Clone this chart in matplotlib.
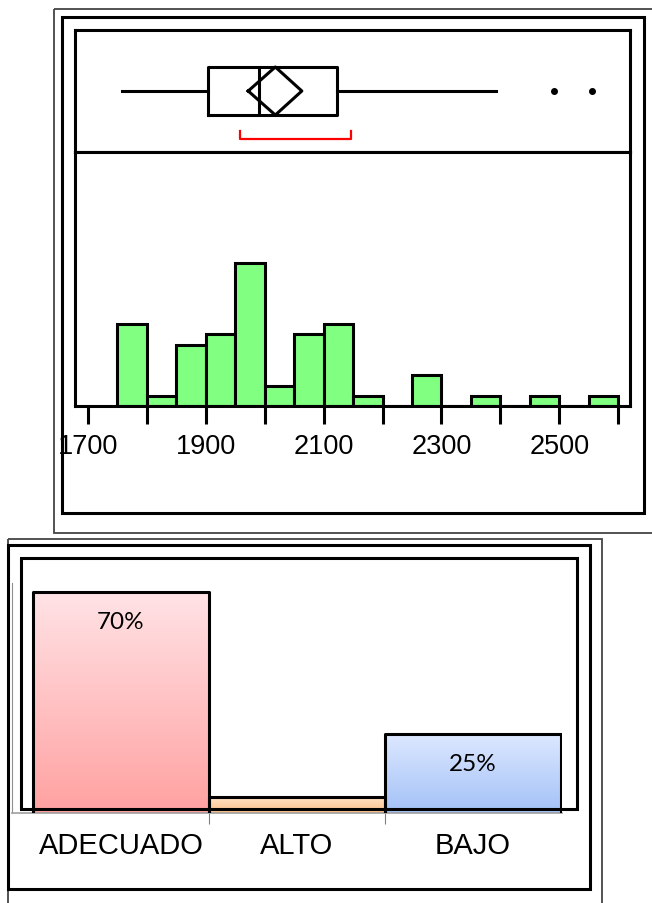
import numpy as np
import matplotlib
matplotlib.use("Agg")
import matplotlib.pyplot as plt
from matplotlib.colors import LinearSegmentedColormap
from matplotlib.patches import Rectangle

plt.rcParams["font.family"] = ["Liberation Sans", "DejaVu Sans"]

# ── histogram of the measured values (bin width 50) ──
bin_edges = np.arange(1750, 2601, 50)
bin_counts = [8, 1, 6, 7, 14, 2, 7, 8, 1, 0, 3, 0, 1, 0, 1, 0, 1]
x_ticks = list(range(1700, 2601, 100))
x_tick_labels = ["1700", "", "1900", "", "2100", "", "2300", "", "2500", ""]

# ── outlier box plot summary ──
box_stats = dict(q1=1904, med=1991, q3=2123, whislo=1758, whishi=2393,
                 fliers=[2491, 2555])
mean_value = 2018
mean_ci = (1972, 2063)
shortest_half = (1958, 2146)

# ── category bar chart (%) ──
categories = ["ADECUADO", "ALTO", "BAJO"]
percentages = [70, 5, 25]
bar_labels = ["70%", "", "25%"]
grad_top = ["#FFE3E6", "#FFE2C6", "#DDE8FF"]
grad_bottom = ["#FFA1A1", "#FBBF88", "#A3C1F7"]
edge_colors = ["#E06060", "#F79646", "#6F96D0"]

W, H = 652, 904
LW = 2.2
fig = plt.figure(figsize=(W / 100, H / 100), dpi=100)


def px_box(x0, y0, x1, y1):
    # pixel box (top-left origin) -> figure fraction rect
    return [x0 / W, 1 - y1 / H, (x1 - x0) / W, (y1 - y0) / H]


# top: box plot + histogram
ax_box = fig.add_axes(px_box(75, 31, 630, 153))
ax_hist = fig.add_axes(px_box(75, 153, 630, 407), sharex=ax_box)

ax_hist.bar(bin_edges[:-1], bin_counts, width=50, align="edge",
            color="#80FF80", edgecolor="black", linewidth=LW)
ax_hist.set_xlim(1678, 2620)
ax_hist.set_ylim(0, 24.8)
ax_hist.set_yticks([])
ax_hist.set_xticks(x_ticks, x_tick_labels)
ax_hist.tick_params(axis="x", direction="out", length=12.7, width=LW,
                    pad=6.6, labelsize=19.5)
for s in ax_hist.spines.values():
    s.set_linewidth(LW)

ax_box.bxp([dict(box_stats, mean=mean_value)], positions=[0.5], widths=0.394,
           orientation="horizontal", showcaps=False,
           boxprops=dict(color="black", linewidth=LW),
           whiskerprops=dict(color="black", linewidth=LW),
           medianprops=dict(color="black", linewidth=LW),
           flierprops=dict(marker="o", markerfacecolor="black",
                           markeredgecolor="black", markersize=4))
h = 0.197
ax_box.plot([mean_ci[0], mean_value, mean_ci[1], mean_value, mean_ci[0]],
            [0.5, 0.5 + h, 0.5, 0.5 - h, 0.5], color="black", lw=LW)
ax_box.plot([shortest_half[0]] * 2 + [shortest_half[1]] * 2,
            [0.175, 0.107, 0.107, 0.175], color="red", lw=1.6)
ax_box.set_ylim(0, 1)
ax_box.set_yticks([])
ax_box.tick_params(bottom=False, labelbottom=False)
for s in ax_box.spines.values():
    s.set_linewidth(LW)

# bottom: category bars
ax_bar = fig.add_axes(px_box(12, 584, 562, 814))
pos = np.arange(len(categories))
bars = ax_bar.bar(pos, percentages, width=1.0, facecolor="none",
                  edgecolor=edge_colors, linewidth=1.0, zorder=2)
for b, top, bot in zip(bars, grad_top, grad_bottom):
    cmap = LinearSegmentedColormap.from_list("g", [bot, top])
    x0, y0 = b.get_x(), b.get_y()
    im = ax_bar.imshow(np.linspace(0, 1, 256).reshape(-1, 1), cmap=cmap,
                       extent=(x0, x0 + b.get_width(), y0, y0 + b.get_height()),
                       origin="lower", aspect="auto", zorder=1)
    im.set_clip_path(b)
for p, v in zip(pos, percentages):
    ax_bar.plot([p - 0.5, p - 0.5, p + 0.5, p + 0.5], [0, v, v, 0],
                color="black", lw=LW, zorder=3)
for p, v, lab in zip(pos, percentages, bar_labels):
    if lab:
        ax_bar.annotate(lab, (p, v), xytext=(0, -21), textcoords="offset points",
                        ha="center", va="center", fontsize=17.5,
                        family=["Lato", "DejaVu Sans"], zorder=4)
ax_bar.set_xlim(-0.619, 2.506)
ax_bar.set_ylim(0, 72.8)
ax_bar.set_yticks([])
ax_bar.set_xticks(pos, categories)
ax_bar.set_xticks([0.5, 1.5], minor=True)
ax_bar.tick_params(axis="x", which="major", length=0, pad=13.2, labelsize=21)
ax_bar.tick_params(axis="x", which="minor", length=8, width=0.8, color="#808080")
ax_bar.spines[["top", "right"]].set_visible(False)
ax_bar.spines["left"].set_color("#909090")
ax_bar.spines["left"].set_linewidth(0.8)
ax_bar.spines["bottom"].set_color("#A0A0A0")
ax_bar.spines["bottom"].set_linewidth(1.2)

# picture frames drawn over everything
ov = fig.add_axes([0, 0, 1, 1], zorder=10)
ov.set_xlim(0, W)
ov.set_ylim(H, 0)
ov.axis("off")


def frame(x0, y0, x1, y1, lw, color="black"):
    ov.add_patch(Rectangle((x0, y0), x1 - x0, y1 - y0, fill=False,
                           lw=lw, ec=color))


frame(53.5, 10, 670, 533.5, 1.3, "#444444")
frame(61.5, 17.5, 644, 514, LW)
frame(8.3, 539.5, 602, 920, 1.3, "#444444")
frame(7.5, 546, 590, 890, LW)
frame(20.8, 559, 577, 810, LW)

fig.savefig("out.png", dpi=100)
